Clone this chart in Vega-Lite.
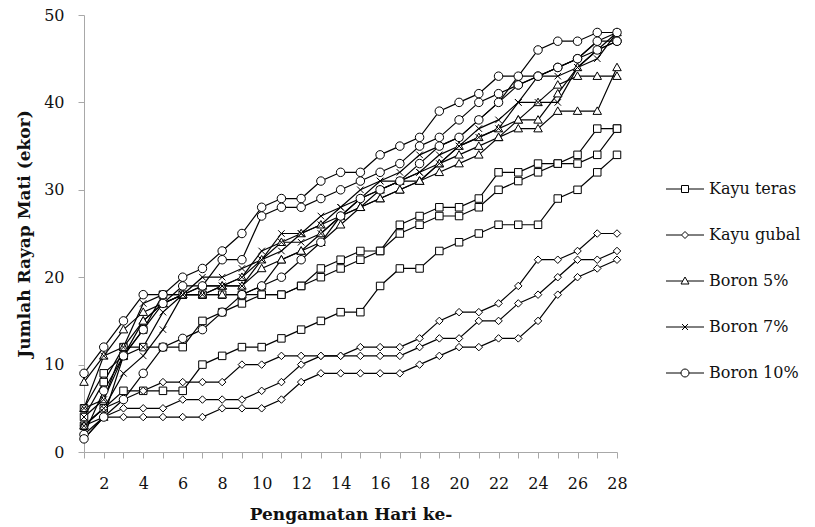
{
"$schema": "https://vega.github.io/schema/vega-lite/v6.json",
"width": 533,
"height": 437,
"autosize": {"type": "none"},
"padding": {"left": 84, "top": 15, "right": 198, "bottom": 75},
"background": "white",
"config": {"view": {"stroke": null}, "font": "DejaVu Serif"},
"data": {"values": [
{"grup":"Kayu teras","u":1,"hari":1,"n":3},{"grup":"Kayu teras","u":1,"hari":2,"n":5},{"grup":"Kayu teras","u":1,"hari":3,"n":7},{"grup":"Kayu teras","u":1,"hari":4,"n":7},{"grup":"Kayu teras","u":1,"hari":5,"n":7},{"grup":"Kayu teras","u":1,"hari":6,"n":7},{"grup":"Kayu teras","u":1,"hari":7,"n":10},{"grup":"Kayu teras","u":1,"hari":8,"n":11},{"grup":"Kayu teras","u":1,"hari":9,"n":12},{"grup":"Kayu teras","u":1,"hari":10,"n":12},{"grup":"Kayu teras","u":1,"hari":11,"n":13},{"grup":"Kayu teras","u":1,"hari":12,"n":14},{"grup":"Kayu teras","u":1,"hari":13,"n":15},{"grup":"Kayu teras","u":1,"hari":14,"n":16},{"grup":"Kayu teras","u":1,"hari":15,"n":16},{"grup":"Kayu teras","u":1,"hari":16,"n":19},{"grup":"Kayu teras","u":1,"hari":17,"n":21},{"grup":"Kayu teras","u":1,"hari":18,"n":21},{"grup":"Kayu teras","u":1,"hari":19,"n":23},{"grup":"Kayu teras","u":1,"hari":20,"n":24},{"grup":"Kayu teras","u":1,"hari":21,"n":25},{"grup":"Kayu teras","u":1,"hari":22,"n":26},{"grup":"Kayu teras","u":1,"hari":23,"n":26},{"grup":"Kayu teras","u":1,"hari":24,"n":26},{"grup":"Kayu teras","u":1,"hari":25,"n":29},{"grup":"Kayu teras","u":1,"hari":26,"n":30},{"grup":"Kayu teras","u":1,"hari":27,"n":32},{"grup":"Kayu teras","u":1,"hari":28,"n":34},
{"grup":"Kayu teras","u":2,"hari":1,"n":4},{"grup":"Kayu teras","u":2,"hari":2,"n":8},{"grup":"Kayu teras","u":2,"hari":3,"n":12},{"grup":"Kayu teras","u":2,"hari":4,"n":12},{"grup":"Kayu teras","u":2,"hari":5,"n":12},{"grup":"Kayu teras","u":2,"hari":6,"n":12},{"grup":"Kayu teras","u":2,"hari":7,"n":15},{"grup":"Kayu teras","u":2,"hari":8,"n":16},{"grup":"Kayu teras","u":2,"hari":9,"n":17},{"grup":"Kayu teras","u":2,"hari":10,"n":18},{"grup":"Kayu teras","u":2,"hari":11,"n":18},{"grup":"Kayu teras","u":2,"hari":12,"n":19},{"grup":"Kayu teras","u":2,"hari":13,"n":20},{"grup":"Kayu teras","u":2,"hari":14,"n":21},{"grup":"Kayu teras","u":2,"hari":15,"n":22},{"grup":"Kayu teras","u":2,"hari":16,"n":23},{"grup":"Kayu teras","u":2,"hari":17,"n":25},{"grup":"Kayu teras","u":2,"hari":18,"n":26},{"grup":"Kayu teras","u":2,"hari":19,"n":27},{"grup":"Kayu teras","u":2,"hari":20,"n":27},{"grup":"Kayu teras","u":2,"hari":21,"n":28},{"grup":"Kayu teras","u":2,"hari":22,"n":30},{"grup":"Kayu teras","u":2,"hari":23,"n":31},{"grup":"Kayu teras","u":2,"hari":24,"n":32},{"grup":"Kayu teras","u":2,"hari":25,"n":33},{"grup":"Kayu teras","u":2,"hari":26,"n":33},{"grup":"Kayu teras","u":2,"hari":27,"n":34},{"grup":"Kayu teras","u":2,"hari":28,"n":37},
{"grup":"Kayu teras","u":3,"hari":1,"n":5},{"grup":"Kayu teras","u":3,"hari":2,"n":9},{"grup":"Kayu teras","u":3,"hari":3,"n":11},{"grup":"Kayu teras","u":3,"hari":4,"n":14},{"grup":"Kayu teras","u":3,"hari":5,"n":18},{"grup":"Kayu teras","u":3,"hari":6,"n":18},{"grup":"Kayu teras","u":3,"hari":7,"n":18},{"grup":"Kayu teras","u":3,"hari":8,"n":18},{"grup":"Kayu teras","u":3,"hari":9,"n":18},{"grup":"Kayu teras","u":3,"hari":10,"n":18},{"grup":"Kayu teras","u":3,"hari":11,"n":18},{"grup":"Kayu teras","u":3,"hari":12,"n":19},{"grup":"Kayu teras","u":3,"hari":13,"n":21},{"grup":"Kayu teras","u":3,"hari":14,"n":22},{"grup":"Kayu teras","u":3,"hari":15,"n":23},{"grup":"Kayu teras","u":3,"hari":16,"n":23},{"grup":"Kayu teras","u":3,"hari":17,"n":26},{"grup":"Kayu teras","u":3,"hari":18,"n":27},{"grup":"Kayu teras","u":3,"hari":19,"n":28},{"grup":"Kayu teras","u":3,"hari":20,"n":28},{"grup":"Kayu teras","u":3,"hari":21,"n":29},{"grup":"Kayu teras","u":3,"hari":22,"n":32},{"grup":"Kayu teras","u":3,"hari":23,"n":32},{"grup":"Kayu teras","u":3,"hari":24,"n":33},{"grup":"Kayu teras","u":3,"hari":25,"n":33},{"grup":"Kayu teras","u":3,"hari":26,"n":34},{"grup":"Kayu teras","u":3,"hari":27,"n":37},{"grup":"Kayu teras","u":3,"hari":28,"n":37},
{"grup":"Kayu gubal","u":1,"hari":1,"n":3},{"grup":"Kayu gubal","u":1,"hari":2,"n":5},{"grup":"Kayu gubal","u":1,"hari":3,"n":6},{"grup":"Kayu gubal","u":1,"hari":4,"n":7},{"grup":"Kayu gubal","u":1,"hari":5,"n":8},{"grup":"Kayu gubal","u":1,"hari":6,"n":8},{"grup":"Kayu gubal","u":1,"hari":7,"n":8},{"grup":"Kayu gubal","u":1,"hari":8,"n":8},{"grup":"Kayu gubal","u":1,"hari":9,"n":10},{"grup":"Kayu gubal","u":1,"hari":10,"n":10},{"grup":"Kayu gubal","u":1,"hari":11,"n":11},{"grup":"Kayu gubal","u":1,"hari":12,"n":11},{"grup":"Kayu gubal","u":1,"hari":13,"n":11},{"grup":"Kayu gubal","u":1,"hari":14,"n":11},{"grup":"Kayu gubal","u":1,"hari":15,"n":12},{"grup":"Kayu gubal","u":1,"hari":16,"n":12},{"grup":"Kayu gubal","u":1,"hari":17,"n":12},{"grup":"Kayu gubal","u":1,"hari":18,"n":13},{"grup":"Kayu gubal","u":1,"hari":19,"n":15},{"grup":"Kayu gubal","u":1,"hari":20,"n":16},{"grup":"Kayu gubal","u":1,"hari":21,"n":16},{"grup":"Kayu gubal","u":1,"hari":22,"n":17},{"grup":"Kayu gubal","u":1,"hari":23,"n":19},{"grup":"Kayu gubal","u":1,"hari":24,"n":22},{"grup":"Kayu gubal","u":1,"hari":25,"n":22},{"grup":"Kayu gubal","u":1,"hari":26,"n":23},{"grup":"Kayu gubal","u":1,"hari":27,"n":25},{"grup":"Kayu gubal","u":1,"hari":28,"n":25},
{"grup":"Kayu gubal","u":2,"hari":1,"n":2},{"grup":"Kayu gubal","u":2,"hari":2,"n":4},{"grup":"Kayu gubal","u":2,"hari":3,"n":5},{"grup":"Kayu gubal","u":2,"hari":4,"n":5},{"grup":"Kayu gubal","u":2,"hari":5,"n":5},{"grup":"Kayu gubal","u":2,"hari":6,"n":6},{"grup":"Kayu gubal","u":2,"hari":7,"n":6},{"grup":"Kayu gubal","u":2,"hari":8,"n":6},{"grup":"Kayu gubal","u":2,"hari":9,"n":6},{"grup":"Kayu gubal","u":2,"hari":10,"n":7},{"grup":"Kayu gubal","u":2,"hari":11,"n":8},{"grup":"Kayu gubal","u":2,"hari":12,"n":10},{"grup":"Kayu gubal","u":2,"hari":13,"n":11},{"grup":"Kayu gubal","u":2,"hari":14,"n":11},{"grup":"Kayu gubal","u":2,"hari":15,"n":11},{"grup":"Kayu gubal","u":2,"hari":16,"n":11},{"grup":"Kayu gubal","u":2,"hari":17,"n":11},{"grup":"Kayu gubal","u":2,"hari":18,"n":12},{"grup":"Kayu gubal","u":2,"hari":19,"n":13},{"grup":"Kayu gubal","u":2,"hari":20,"n":13},{"grup":"Kayu gubal","u":2,"hari":21,"n":15},{"grup":"Kayu gubal","u":2,"hari":22,"n":15},{"grup":"Kayu gubal","u":2,"hari":23,"n":17},{"grup":"Kayu gubal","u":2,"hari":24,"n":18},{"grup":"Kayu gubal","u":2,"hari":25,"n":20},{"grup":"Kayu gubal","u":2,"hari":26,"n":22},{"grup":"Kayu gubal","u":2,"hari":27,"n":22},{"grup":"Kayu gubal","u":2,"hari":28,"n":23},
{"grup":"Kayu gubal","u":3,"hari":1,"n":1.5},{"grup":"Kayu gubal","u":3,"hari":2,"n":4},{"grup":"Kayu gubal","u":3,"hari":3,"n":4},{"grup":"Kayu gubal","u":3,"hari":4,"n":4},{"grup":"Kayu gubal","u":3,"hari":5,"n":4},{"grup":"Kayu gubal","u":3,"hari":6,"n":4},{"grup":"Kayu gubal","u":3,"hari":7,"n":4},{"grup":"Kayu gubal","u":3,"hari":8,"n":5},{"grup":"Kayu gubal","u":3,"hari":9,"n":5},{"grup":"Kayu gubal","u":3,"hari":10,"n":5},{"grup":"Kayu gubal","u":3,"hari":11,"n":6},{"grup":"Kayu gubal","u":3,"hari":12,"n":8},{"grup":"Kayu gubal","u":3,"hari":13,"n":9},{"grup":"Kayu gubal","u":3,"hari":14,"n":9},{"grup":"Kayu gubal","u":3,"hari":15,"n":9},{"grup":"Kayu gubal","u":3,"hari":16,"n":9},{"grup":"Kayu gubal","u":3,"hari":17,"n":9},{"grup":"Kayu gubal","u":3,"hari":18,"n":10},{"grup":"Kayu gubal","u":3,"hari":19,"n":11},{"grup":"Kayu gubal","u":3,"hari":20,"n":12},{"grup":"Kayu gubal","u":3,"hari":21,"n":12},{"grup":"Kayu gubal","u":3,"hari":22,"n":13},{"grup":"Kayu gubal","u":3,"hari":23,"n":13},{"grup":"Kayu gubal","u":3,"hari":24,"n":15},{"grup":"Kayu gubal","u":3,"hari":25,"n":18},{"grup":"Kayu gubal","u":3,"hari":26,"n":20},{"grup":"Kayu gubal","u":3,"hari":27,"n":21},{"grup":"Kayu gubal","u":3,"hari":28,"n":22},
{"grup":"Boron 5%","u":1,"hari":1,"n":8},{"grup":"Boron 5%","u":1,"hari":2,"n":11},{"grup":"Boron 5%","u":1,"hari":3,"n":14},{"grup":"Boron 5%","u":1,"hari":4,"n":16},{"grup":"Boron 5%","u":1,"hari":5,"n":17},{"grup":"Boron 5%","u":1,"hari":6,"n":18},{"grup":"Boron 5%","u":1,"hari":7,"n":19},{"grup":"Boron 5%","u":1,"hari":8,"n":19},{"grup":"Boron 5%","u":1,"hari":9,"n":20},{"grup":"Boron 5%","u":1,"hari":10,"n":22},{"grup":"Boron 5%","u":1,"hari":11,"n":24},{"grup":"Boron 5%","u":1,"hari":12,"n":25},{"grup":"Boron 5%","u":1,"hari":13,"n":26},{"grup":"Boron 5%","u":1,"hari":14,"n":27},{"grup":"Boron 5%","u":1,"hari":15,"n":28},{"grup":"Boron 5%","u":1,"hari":16,"n":29},{"grup":"Boron 5%","u":1,"hari":17,"n":30},{"grup":"Boron 5%","u":1,"hari":18,"n":31},{"grup":"Boron 5%","u":1,"hari":19,"n":32},{"grup":"Boron 5%","u":1,"hari":20,"n":33},{"grup":"Boron 5%","u":1,"hari":21,"n":34},{"grup":"Boron 5%","u":1,"hari":22,"n":36},{"grup":"Boron 5%","u":1,"hari":23,"n":37},{"grup":"Boron 5%","u":1,"hari":24,"n":37},{"grup":"Boron 5%","u":1,"hari":25,"n":39},{"grup":"Boron 5%","u":1,"hari":26,"n":39},{"grup":"Boron 5%","u":1,"hari":27,"n":39},{"grup":"Boron 5%","u":1,"hari":28,"n":44},
{"grup":"Boron 5%","u":2,"hari":1,"n":5},{"grup":"Boron 5%","u":2,"hari":2,"n":6},{"grup":"Boron 5%","u":2,"hari":3,"n":12},{"grup":"Boron 5%","u":2,"hari":4,"n":15},{"grup":"Boron 5%","u":2,"hari":5,"n":17},{"grup":"Boron 5%","u":2,"hari":6,"n":18},{"grup":"Boron 5%","u":2,"hari":7,"n":18},{"grup":"Boron 5%","u":2,"hari":8,"n":19},{"grup":"Boron 5%","u":2,"hari":9,"n":19},{"grup":"Boron 5%","u":2,"hari":10,"n":21},{"grup":"Boron 5%","u":2,"hari":11,"n":22},{"grup":"Boron 5%","u":2,"hari":12,"n":23},{"grup":"Boron 5%","u":2,"hari":13,"n":25},{"grup":"Boron 5%","u":2,"hari":14,"n":27},{"grup":"Boron 5%","u":2,"hari":15,"n":28},{"grup":"Boron 5%","u":2,"hari":16,"n":30},{"grup":"Boron 5%","u":2,"hari":17,"n":31},{"grup":"Boron 5%","u":2,"hari":18,"n":31},{"grup":"Boron 5%","u":2,"hari":19,"n":33},{"grup":"Boron 5%","u":2,"hari":20,"n":34},{"grup":"Boron 5%","u":2,"hari":21,"n":35},{"grup":"Boron 5%","u":2,"hari":22,"n":36},{"grup":"Boron 5%","u":2,"hari":23,"n":38},{"grup":"Boron 5%","u":2,"hari":24,"n":40},{"grup":"Boron 5%","u":2,"hari":25,"n":42},{"grup":"Boron 5%","u":2,"hari":26,"n":43},{"grup":"Boron 5%","u":2,"hari":27,"n":43},{"grup":"Boron 5%","u":2,"hari":28,"n":43},
{"grup":"Boron 5%","u":3,"hari":1,"n":3},{"grup":"Boron 5%","u":3,"hari":2,"n":4},{"grup":"Boron 5%","u":3,"hari":3,"n":11},{"grup":"Boron 5%","u":3,"hari":4,"n":15},{"grup":"Boron 5%","u":3,"hari":5,"n":17},{"grup":"Boron 5%","u":3,"hari":6,"n":18},{"grup":"Boron 5%","u":3,"hari":7,"n":18},{"grup":"Boron 5%","u":3,"hari":8,"n":18},{"grup":"Boron 5%","u":3,"hari":9,"n":18},{"grup":"Boron 5%","u":3,"hari":10,"n":19},{"grup":"Boron 5%","u":3,"hari":11,"n":22},{"grup":"Boron 5%","u":3,"hari":12,"n":23},{"grup":"Boron 5%","u":3,"hari":13,"n":24},{"grup":"Boron 5%","u":3,"hari":14,"n":26},{"grup":"Boron 5%","u":3,"hari":15,"n":28},{"grup":"Boron 5%","u":3,"hari":16,"n":29},{"grup":"Boron 5%","u":3,"hari":17,"n":30},{"grup":"Boron 5%","u":3,"hari":18,"n":31},{"grup":"Boron 5%","u":3,"hari":19,"n":33},{"grup":"Boron 5%","u":3,"hari":20,"n":35},{"grup":"Boron 5%","u":3,"hari":21,"n":36},{"grup":"Boron 5%","u":3,"hari":22,"n":37},{"grup":"Boron 5%","u":3,"hari":23,"n":38},{"grup":"Boron 5%","u":3,"hari":24,"n":38},{"grup":"Boron 5%","u":3,"hari":25,"n":41},{"grup":"Boron 5%","u":3,"hari":26,"n":44},{"grup":"Boron 5%","u":3,"hari":27,"n":46},{"grup":"Boron 5%","u":3,"hari":28,"n":48},
{"grup":"Boron 7%","u":1,"hari":1,"n":5},{"grup":"Boron 7%","u":1,"hari":2,"n":11},{"grup":"Boron 7%","u":1,"hari":3,"n":12},{"grup":"Boron 7%","u":1,"hari":4,"n":17},{"grup":"Boron 7%","u":1,"hari":5,"n":18},{"grup":"Boron 7%","u":1,"hari":6,"n":18},{"grup":"Boron 7%","u":1,"hari":7,"n":19},{"grup":"Boron 7%","u":1,"hari":8,"n":19},{"grup":"Boron 7%","u":1,"hari":9,"n":20},{"grup":"Boron 7%","u":1,"hari":10,"n":23},{"grup":"Boron 7%","u":1,"hari":11,"n":24},{"grup":"Boron 7%","u":1,"hari":12,"n":24},{"grup":"Boron 7%","u":1,"hari":13,"n":25},{"grup":"Boron 7%","u":1,"hari":14,"n":27},{"grup":"Boron 7%","u":1,"hari":15,"n":29},{"grup":"Boron 7%","u":1,"hari":16,"n":30},{"grup":"Boron 7%","u":1,"hari":17,"n":31},{"grup":"Boron 7%","u":1,"hari":18,"n":32},{"grup":"Boron 7%","u":1,"hari":19,"n":33},{"grup":"Boron 7%","u":1,"hari":20,"n":35},{"grup":"Boron 7%","u":1,"hari":21,"n":36},{"grup":"Boron 7%","u":1,"hari":22,"n":37},{"grup":"Boron 7%","u":1,"hari":23,"n":40},{"grup":"Boron 7%","u":1,"hari":24,"n":40},{"grup":"Boron 7%","u":1,"hari":25,"n":40},{"grup":"Boron 7%","u":1,"hari":26,"n":44},{"grup":"Boron 7%","u":1,"hari":27,"n":46},{"grup":"Boron 7%","u":1,"hari":28,"n":47},
{"grup":"Boron 7%","u":2,"hari":1,"n":4},{"grup":"Boron 7%","u":2,"hari":2,"n":6},{"grup":"Boron 7%","u":2,"hari":3,"n":11},{"grup":"Boron 7%","u":2,"hari":4,"n":12},{"grup":"Boron 7%","u":2,"hari":5,"n":16},{"grup":"Boron 7%","u":2,"hari":6,"n":18},{"grup":"Boron 7%","u":2,"hari":7,"n":18},{"grup":"Boron 7%","u":2,"hari":8,"n":19},{"grup":"Boron 7%","u":2,"hari":9,"n":19},{"grup":"Boron 7%","u":2,"hari":10,"n":22},{"grup":"Boron 7%","u":2,"hari":11,"n":23},{"grup":"Boron 7%","u":2,"hari":12,"n":25},{"grup":"Boron 7%","u":2,"hari":13,"n":27},{"grup":"Boron 7%","u":2,"hari":14,"n":28},{"grup":"Boron 7%","u":2,"hari":15,"n":29},{"grup":"Boron 7%","u":2,"hari":16,"n":31},{"grup":"Boron 7%","u":2,"hari":17,"n":31},{"grup":"Boron 7%","u":2,"hari":18,"n":32},{"grup":"Boron 7%","u":2,"hari":19,"n":34},{"grup":"Boron 7%","u":2,"hari":20,"n":35},{"grup":"Boron 7%","u":2,"hari":21,"n":37},{"grup":"Boron 7%","u":2,"hari":22,"n":38},{"grup":"Boron 7%","u":2,"hari":23,"n":40},{"grup":"Boron 7%","u":2,"hari":24,"n":43},{"grup":"Boron 7%","u":2,"hari":25,"n":44},{"grup":"Boron 7%","u":2,"hari":26,"n":45},{"grup":"Boron 7%","u":2,"hari":27,"n":47},{"grup":"Boron 7%","u":2,"hari":28,"n":48},
{"grup":"Boron 7%","u":3,"hari":1,"n":3},{"grup":"Boron 7%","u":3,"hari":2,"n":5},{"grup":"Boron 7%","u":3,"hari":3,"n":9},{"grup":"Boron 7%","u":3,"hari":4,"n":11},{"grup":"Boron 7%","u":3,"hari":5,"n":14},{"grup":"Boron 7%","u":3,"hari":6,"n":18},{"grup":"Boron 7%","u":3,"hari":7,"n":20},{"grup":"Boron 7%","u":3,"hari":8,"n":20},{"grup":"Boron 7%","u":3,"hari":9,"n":21},{"grup":"Boron 7%","u":3,"hari":10,"n":22},{"grup":"Boron 7%","u":3,"hari":11,"n":25},{"grup":"Boron 7%","u":3,"hari":12,"n":25},{"grup":"Boron 7%","u":3,"hari":13,"n":26},{"grup":"Boron 7%","u":3,"hari":14,"n":28},{"grup":"Boron 7%","u":3,"hari":15,"n":30},{"grup":"Boron 7%","u":3,"hari":16,"n":31},{"grup":"Boron 7%","u":3,"hari":17,"n":32},{"grup":"Boron 7%","u":3,"hari":18,"n":34},{"grup":"Boron 7%","u":3,"hari":19,"n":35},{"grup":"Boron 7%","u":3,"hari":20,"n":36},{"grup":"Boron 7%","u":3,"hari":21,"n":38},{"grup":"Boron 7%","u":3,"hari":22,"n":40},{"grup":"Boron 7%","u":3,"hari":23,"n":43},{"grup":"Boron 7%","u":3,"hari":24,"n":43},{"grup":"Boron 7%","u":3,"hari":25,"n":43},{"grup":"Boron 7%","u":3,"hari":26,"n":44},{"grup":"Boron 7%","u":3,"hari":27,"n":45},{"grup":"Boron 7%","u":3,"hari":28,"n":48},
{"grup":"Boron 10%","u":1,"hari":1,"n":9},{"grup":"Boron 10%","u":1,"hari":2,"n":12},{"grup":"Boron 10%","u":1,"hari":3,"n":15},{"grup":"Boron 10%","u":1,"hari":4,"n":18},{"grup":"Boron 10%","u":1,"hari":5,"n":18},{"grup":"Boron 10%","u":1,"hari":6,"n":20},{"grup":"Boron 10%","u":1,"hari":7,"n":21},{"grup":"Boron 10%","u":1,"hari":8,"n":23},{"grup":"Boron 10%","u":1,"hari":9,"n":25},{"grup":"Boron 10%","u":1,"hari":10,"n":28},{"grup":"Boron 10%","u":1,"hari":11,"n":29},{"grup":"Boron 10%","u":1,"hari":12,"n":29},{"grup":"Boron 10%","u":1,"hari":13,"n":31},{"grup":"Boron 10%","u":1,"hari":14,"n":32},{"grup":"Boron 10%","u":1,"hari":15,"n":32},{"grup":"Boron 10%","u":1,"hari":16,"n":34},{"grup":"Boron 10%","u":1,"hari":17,"n":35},{"grup":"Boron 10%","u":1,"hari":18,"n":36},{"grup":"Boron 10%","u":1,"hari":19,"n":39},{"grup":"Boron 10%","u":1,"hari":20,"n":40},{"grup":"Boron 10%","u":1,"hari":21,"n":41},{"grup":"Boron 10%","u":1,"hari":22,"n":43},{"grup":"Boron 10%","u":1,"hari":23,"n":43},{"grup":"Boron 10%","u":1,"hari":24,"n":46},{"grup":"Boron 10%","u":1,"hari":25,"n":47},{"grup":"Boron 10%","u":1,"hari":26,"n":47},{"grup":"Boron 10%","u":1,"hari":27,"n":48},{"grup":"Boron 10%","u":1,"hari":28,"n":48},
{"grup":"Boron 10%","u":2,"hari":1,"n":2},{"grup":"Boron 10%","u":2,"hari":2,"n":7},{"grup":"Boron 10%","u":2,"hari":3,"n":11},{"grup":"Boron 10%","u":2,"hari":4,"n":14},{"grup":"Boron 10%","u":2,"hari":5,"n":17},{"grup":"Boron 10%","u":2,"hari":6,"n":19},{"grup":"Boron 10%","u":2,"hari":7,"n":19},{"grup":"Boron 10%","u":2,"hari":8,"n":22},{"grup":"Boron 10%","u":2,"hari":9,"n":22},{"grup":"Boron 10%","u":2,"hari":10,"n":27},{"grup":"Boron 10%","u":2,"hari":11,"n":28},{"grup":"Boron 10%","u":2,"hari":12,"n":28},{"grup":"Boron 10%","u":2,"hari":13,"n":29},{"grup":"Boron 10%","u":2,"hari":14,"n":30},{"grup":"Boron 10%","u":2,"hari":15,"n":31},{"grup":"Boron 10%","u":2,"hari":16,"n":32},{"grup":"Boron 10%","u":2,"hari":17,"n":33},{"grup":"Boron 10%","u":2,"hari":18,"n":35},{"grup":"Boron 10%","u":2,"hari":19,"n":36},{"grup":"Boron 10%","u":2,"hari":20,"n":38},{"grup":"Boron 10%","u":2,"hari":21,"n":40},{"grup":"Boron 10%","u":2,"hari":22,"n":41},{"grup":"Boron 10%","u":2,"hari":23,"n":42},{"grup":"Boron 10%","u":2,"hari":24,"n":43},{"grup":"Boron 10%","u":2,"hari":25,"n":44},{"grup":"Boron 10%","u":2,"hari":26,"n":45},{"grup":"Boron 10%","u":2,"hari":27,"n":47},{"grup":"Boron 10%","u":2,"hari":28,"n":47},
{"grup":"Boron 10%","u":3,"hari":1,"n":1.5},{"grup":"Boron 10%","u":3,"hari":2,"n":4},{"grup":"Boron 10%","u":3,"hari":3,"n":6},{"grup":"Boron 10%","u":3,"hari":4,"n":9},{"grup":"Boron 10%","u":3,"hari":5,"n":12},{"grup":"Boron 10%","u":3,"hari":6,"n":13},{"grup":"Boron 10%","u":3,"hari":7,"n":14},{"grup":"Boron 10%","u":3,"hari":8,"n":16},{"grup":"Boron 10%","u":3,"hari":9,"n":18},{"grup":"Boron 10%","u":3,"hari":10,"n":19},{"grup":"Boron 10%","u":3,"hari":11,"n":20},{"grup":"Boron 10%","u":3,"hari":12,"n":22},{"grup":"Boron 10%","u":3,"hari":13,"n":24},{"grup":"Boron 10%","u":3,"hari":14,"n":27},{"grup":"Boron 10%","u":3,"hari":15,"n":29},{"grup":"Boron 10%","u":3,"hari":16,"n":30},{"grup":"Boron 10%","u":3,"hari":17,"n":31},{"grup":"Boron 10%","u":3,"hari":18,"n":33},{"grup":"Boron 10%","u":3,"hari":19,"n":35},{"grup":"Boron 10%","u":3,"hari":20,"n":36},{"grup":"Boron 10%","u":3,"hari":21,"n":38},{"grup":"Boron 10%","u":3,"hari":22,"n":40},{"grup":"Boron 10%","u":3,"hari":23,"n":42},{"grup":"Boron 10%","u":3,"hari":24,"n":43},{"grup":"Boron 10%","u":3,"hari":25,"n":44},{"grup":"Boron 10%","u":3,"hari":26,"n":45},{"grup":"Boron 10%","u":3,"hari":27,"n":46},{"grup":"Boron 10%","u":3,"hari":28,"n":47}
]},
"encoding": {
  "x": {"field": "hari", "type": "quantitative",
        "scale": {"domain": [1, 28], "nice": false, "zero": false},
        "axis": {"values": [1,2,3,4,5,6,7,8,9,10,11,12,13,14,15,16,17,18,19,20,21,22,23,24,25,26,27,28],
                 "labelExpr": "datum.value % 2 == 0 ? datum.label : ''",
                 "grid": false, "domainColor": "#a8a8a8", "tickColor": "#a8a8a8", "tickSize": 6,
                 "labelPadding": 17, "labelFontSize": 16, "labelFont": "DejaVu Serif", "labelColor": "#111",
                 "labelOverlap": false, "labelFlush": false,
                 "title": "Pengamatan Hari ke-", "titleFont": "DejaVu Serif", "titleFontSize": 17,
                 "titleFontWeight": "bold", "titleColor": "#111", "titlePadding": 15}},
  "y": {"field": "n", "type": "quantitative",
        "scale": {"domain": [0, 50], "nice": false},
        "axis": {"values": [0,10,20,30,40,50], "grid": false, "domainColor": "#a8a8a8", "tickColor": "#a8a8a8",
                 "tickSize": 6, "labelPadding": 14, "labelFontSize": 16, "labelFont": "DejaVu Serif", "labelColor": "#111",
                 "title": "Jumlah Rayap Mati (ekor)", "titleFont": "DejaVu Serif", "titleFontSize": 17,
                 "titleFontWeight": "bold", "titleColor": "#111", "titlePadding": 10}}
},
"layer": [
  {"mark": {"type": "line", "color": "black", "strokeWidth": 1.2},
   "encoding": {"detail": [{"field": "grup"}, {"field": "u"}]}},
  {"mark": {"type": "point", "filled": true, "fill": "white", "stroke": "black", "strokeWidth": 1, "size": 100, "opacity": 1},
   "encoding": {"shape": {"field": "grup", "type": "nominal", "legend": null,
      "scale": {"domain": ["Kayu teras","Kayu gubal","Boron 5%","Boron 7%","Boron 10%"],
                "range": ["M-0.75,-0.75H0.75V0.75H-0.75Z",
                          "M0,-0.75L0.75,0L0,0.75L-0.75,0Z",
                          "M0,-0.85L0.85,0.65H-0.85Z",
                          "M-0.65,-0.65L0.65,0.65M-0.65,0.65L0.65,-0.65",
                          "M0.85,0A0.85,0.85 0 1,1 -0.85,0A0.85,0.85 0 1,1 0.85,0Z"]}}}},
  {"mark": {"type": "point", "filled": false, "stroke": "black", "strokeWidth": 1, "size": 100, "opacity": 0},
   "encoding": {"shape": {"field": "grup", "type": "nominal",
      "scale": {"domain": ["Kayu teras","Kayu gubal","Boron 5%","Boron 7%","Boron 10%"],
                "range": ["M-3.8,0H-0.7M0.7,0H3.8M-0.7,-0.7H0.7V0.7H-0.7Z",
                          "M-3.8,0H-0.7M0.7,0H3.8M0,-0.7L0.7,0L0,0.7L-0.7,0Z",
                          "M-3.8,0H-0.45M0.45,0H3.8M0,-0.8L0.8,0.6H-0.8Z",
                          "M-3.8,0H3.8M-0.6,-0.6L0.6,0.6M-0.6,0.6L0.6,-0.6",
                          "M-3.8,0H-0.8M0.8,0H3.8M0.8,0A0.8,0.8 0 1,1 -0.8,0A0.8,0.8 0 1,1 0.8,0Z"]},
      "legend": {"title": null, "orient": "none", "legendX": 593, "legendY": 166, "padding": 0,
                 "symbolSize": 100, "symbolStrokeWidth": 1, "symbolStrokeColor": "black", "symbolFillColor": "white",
                 "symbolOpacity": 1,
                 "labelFont": "DejaVu Serif", "labelFontSize": 16, "labelColor": "#111", "labelOffset": 16,
                 "rowPadding": 30,
                 "encode": {"symbols": {"update": {"stroke": {"value": "black"}, "fill": {"value": "white"},
                                                   "strokeWidth": {"value": 1}, "opacity": {"value": 1},
                                                   "strokeOpacity": {"value": 1}, "fillOpacity": {"value": 1}}}}}}}}
],
"resolve": {"scale": {"shape": "independent"}, "legend": {"shape": "independent"}}
}
